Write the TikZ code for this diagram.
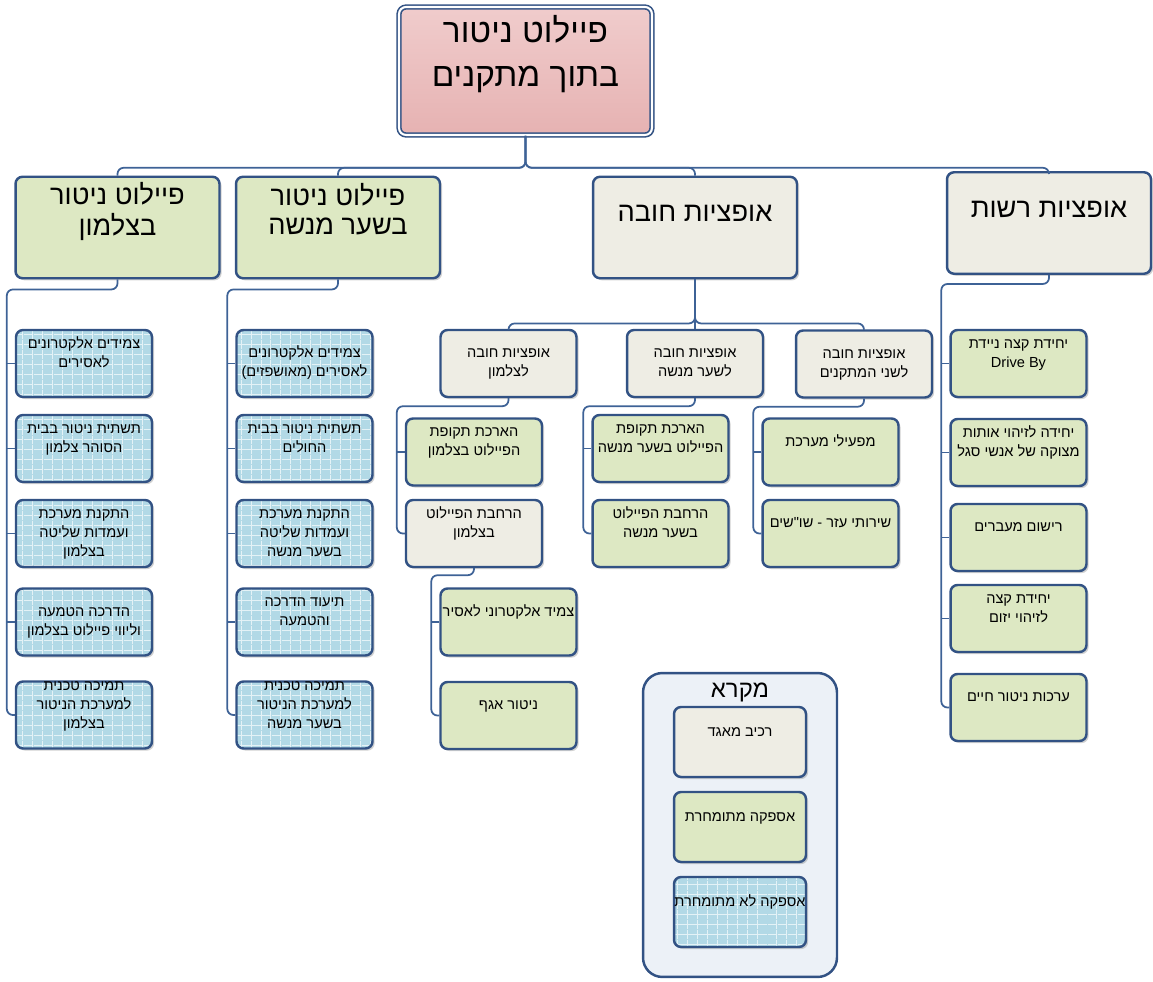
\documentclass[tikz,border=0pt]{standalone}
\usepackage{fontspec}
\usepackage{tikz}
\usetikzlibrary{shadows, patterns.meta}
\newfontfamily\hebfont[Script=Hebrew]{Liberation Sans}
\TeXXeTstate=1
\definecolor{edgeblue}{RGB}{50,82,132}
\definecolor{linkblue}{RGB}{62,98,150}
\definecolor{rootpink}{RGB}{230,178,178}
\definecolor{rootpinktop}{RGB}{240,204,204}
\definecolor{greenfill}{RGB}{221,232,195}
\definecolor{bluefill}{RGB}{178,217,230}
\definecolor{beigefill}{RGB}{238,237,228}
\definecolor{legendfill}{RGB}{236,241,247}
% text of a box: one row per line, raised by #1
\newcommand{\boxtext}[2][3.4pt]{\raisebox{#1}[0pt][0pt]{\begin{tabular}{@{}c@{}}#2\end{tabular}}}

\begin{document}
\begin{tikzpicture}[x = 0.02cm, y = -0.02cm,
    shade/.style = {drop shadow = {shadow xshift = 1.2pt, shadow yshift = -1.2pt, opacity = 0.3, fill = black!60}},
    box/.style = {draw = edgeblue, line width = 1.4pt, rounded corners = 4pt, inner sep = 0pt, shade},
    leaf/.style = {box, minimum width = 2.72cm, minimum height = 1.34cm, font = \hebfont\fontsize{8.3pt}{10.8pt}\selectfont},
    topbox/.style = {box, fill = beigefill, minimum width = 4.08cm, minimum height = 2.03cm, font = \hebfont\fontsize{15.5pt}{16.4pt}\selectfont},
    greenleaf/.style = {leaf, fill = greenfill},
    beigeleaf/.style = {leaf, fill = beigefill},
    blueleaf/.style = {leaf,
        preaction = {fill = bluefill},
        preaction = {pattern = {Lines[angle = 0, distance = 5.4pt, line width = 0.5pt]}, pattern color = white!65!bluefill},
        preaction = {pattern = {Lines[angle = 90, distance = 5.4pt, line width = 0.5pt]}, pattern color = white!65!bluefill}},
    link/.style = {draw = linkblue, line width = 1pt, rounded corners = 3.5pt}]
    \useasboundingbox (0,0) rectangle (1153,982);
    % Radice
    \node[box, top color = rootpinktop, bottom color = rootpink, double = white, double distance = 1.2pt, line width = 0.9pt,
        minimum width = 5.06cm, minimum height = 2.56cm, font = \hebfont\fontsize{19pt}{25pt}\selectfont]
        (root) at (525.5,71) {\boxtext[4.5pt]{\beginR פיילוט ניטור\endR\\\beginR בתוך מתקנים\endR}};
    % Primo livello
    \node[topbox, fill = greenfill] (tz) at (117.5,227.5) {\boxtext[4.6pt]{\beginR פיילוט ניטור\endR\\\beginR בצלמון\endR}};
    \node[topbox, fill = greenfill] (sm) at (338,227.5) {\boxtext[4.6pt]{\beginR פיילוט ניטור\endR\\\beginR בשער מנשה\endR}};
    \node[topbox] (must) at (695,227.5) {\boxtext[3pt]{\beginR אופציות חובה\endR}};
    \node[topbox] (opt) at (1049,223) {\boxtext[3pt]{\beginR אופציות רשות\endR}};
    \draw[link] (root.south) -- ++(0,32) -| (tz.north);
    \draw[link] (root.south) -- ++(0,32) -| (sm.north);
    \draw[link] (root.south) -- ++(0,32) -| (must.north);
    \draw[link] (root.south) -- ++(0,32) -| (opt.north);
    % Pilota Tsalmon
    \node[blueleaf] (tz1) at (84,363.5) {\boxtext{\beginR צמידים אלקטרונים\endR\\\beginR לאסירים\endR}};
    \node[blueleaf] (tz2) at (84,448.5) {\boxtext{\beginR תשתית ניטור בבית\endR\\\beginR הסוהר צלמון\endR}};
    \node[blueleaf] (tz3) at (84,533.5) {\boxtext[-2pt]{\beginR התקנת מערכת\endR\\\beginR ועמדות שליטה\endR\\\beginR בצלמון\endR}};
    \node[blueleaf] (tz4) at (84,622) {\boxtext[-2pt]{\beginR הדרכה הטמעה\endR\\\beginR וליווי פיילוט בצלמון\endR}};
    \node[blueleaf] (tz5) at (84,715) {\boxtext{\beginR תמיכה טכנית\endR\\\beginR למערכת הניטור\endR\\\beginR בצלמון\endR}};
    \draw[link] (tz.south) -- ++(0,10) -| ([xshift = -0.16cm]tz5.west) -- (tz5.west);
    \draw[link] ([xshift = -0.16cm]tz1.west) -- (tz1.west);
    \draw[link] ([xshift = -0.16cm]tz2.west) -- (tz2.west);
    \draw[link] ([xshift = -0.16cm]tz3.west) -- (tz3.west);
    \draw[link] ([xshift = -0.16cm]tz4.west) -- (tz4.west);
    % Pilota Sha'ar Menashe
    \node[blueleaf] (sm1) at (304.5,363.5) {\boxtext[-2pt]{\beginR צמידים אלקטרונים\endR\\\beginR לאסירים (מאושפזים)\endR}};
    \node[blueleaf] (sm2) at (304.5,448.5) {\boxtext{\beginR תשתית ניטור בבית\endR\\\beginR החולים\endR}};
    \node[blueleaf] (sm3) at (304.5,533.5) {\boxtext[-2pt]{\beginR התקנת מערכת\endR\\\beginR ועמדות שליטה\endR\\\beginR בשער מנשה\endR}};
    \node[blueleaf] (sm4) at (304.5,622) {\boxtext{\beginR תיעוד הדרכה\endR\\\beginR והטמעה\endR}};
    \node[blueleaf] (sm5) at (304.5,715) {\boxtext{\beginR תמיכה טכנית\endR\\\beginR למערכת הניטור\endR\\\beginR בשער מנשה\endR}};
    \draw[link] (sm.south) -- ++(0,10) -| ([xshift = -0.16cm]sm5.west) -- (sm5.west);
    \draw[link] ([xshift = -0.16cm]sm1.west) -- (sm1.west);
    \draw[link] ([xshift = -0.16cm]sm2.west) -- (sm2.west);
    \draw[link] ([xshift = -0.16cm]sm3.west) -- (sm3.west);
    \draw[link] ([xshift = -0.16cm]sm4.west) -- (sm4.west);
    % Opzioni obbligatorie
    \node[beigeleaf] (mtz) at (508.5,363.5) {\boxtext[-2pt]{\beginR אופציות חובה\endR\\\beginR לצלמון\endR}};
    \node[beigeleaf] (msm) at (695,363.5) {\boxtext[-2pt]{\beginR אופציות חובה\endR\\\beginR לשער מנשה\endR}};
    \node[beigeleaf] (mboth) at (864,364) {\boxtext[-2pt]{\beginR אופציות חובה\endR\\\beginR לשני המתקנים\endR}};
    \draw[link] (must.south) -- ++(0,44) -| (mtz.north);
    \draw[link] (must.south) -- (msm.north);
    \draw[link] (must.south) -- ++(0,44) -| (mboth.north);
    % Obbligatorie Tsalmon
    \node[greenleaf] (mtz1) at (474,452) {\boxtext{\beginR הארכת תקופת\endR\\\beginR הפיילוט בצלמון\endR}};
    \node[beigeleaf] (mtz2) at (474,533.5) {\boxtext{\beginR הרחבת הפיילוט\endR\\\beginR בצלמון\endR}};
    \draw[link] (mtz.south) -- ++(0,8) -| ([xshift = -0.16cm]mtz2.west) -- (mtz2.west);
    \draw[link] ([xshift = -0.16cm]mtz1.west) -- (mtz1.west);
    \node[greenleaf] (mtz21) at (508.5,622) {\boxtext{\beginR צמיד אלקטרוני לאסיר\endR}};
    \node[greenleaf] (mtz22) at (508.5,715.5) {\boxtext{\beginR ניטור אגף\endR}};
    \draw[link] (mtz2.south) -- ++(0,7) -| ([xshift = -0.16cm]mtz22.west) -- (mtz22.west);
    \draw[link] ([xshift = -0.16cm]mtz21.west) -- (mtz21.west);
    % Obbligatorie Sha'ar Menashe
    \node[greenleaf] (msm1) at (660.5,448.5) {\boxtext{\beginR הארכת תקופת\endR\\\beginR הפיילוט בשער מנשה\endR}};
    \node[greenleaf] (msm2) at (660.5,533.5) {\boxtext{\beginR הרחבת הפיילוט\endR\\\beginR בשער מנשה\endR}};
    \draw[link] (msm.south) -- ++(0,8) -| ([xshift = -0.16cm]msm2.west) -- (msm2.west);
    \draw[link] ([xshift = -0.16cm]msm1.west) -- (msm1.west);
    % Obbligatorie per entrambi
    \node[greenleaf] (mboth1) at (830.5,452) {\boxtext{\beginR מפעילי מערכת\endR}};
    \node[greenleaf] (mboth2) at (830.5,533.5) {\boxtext{\beginR שירותי עזר - שו"שים\endR}};
    \draw[link] (mboth.south) -- ++(0,8) -| ([xshift = -0.16cm]mboth2.west) -- (mboth2.west);
    \draw[link] ([xshift = -0.16cm]mboth1.west) -- (mboth1.west);
    % Opzioni facoltative
    \node[greenleaf] (opt1) at (1018.5,363.5) {\boxtext{\beginR יחידת קצה ניידת\endR\\\beginL Drive By\endL}};
    \node[greenleaf] (opt2) at (1018.5,452.5) {\boxtext{\beginR יחידה לזיהוי אותות\endR\\\beginR מצוקה של אנשי סגל\endR}};
    \node[greenleaf] (opt3) at (1018.5,537.5) {\boxtext{\beginR רישום מעברים\endR}};
    \node[greenleaf] (opt4) at (1018.5,618.5) {\boxtext{\beginR יחידת קצה\endR\\\beginR לזיהוי יזום\endR}};
    \node[greenleaf] (opt5) at (1018.5,707.5) {\boxtext{\beginR ערכות ניטור חיים\endR}};
    \draw[link] (opt.south) -- ++(0,9) -| ([xshift = -0.16cm]opt5.west) -- (opt5.west);
    \draw[link] ([xshift = -0.16cm]opt1.west) -- (opt1.west);
    \draw[link] ([xshift = -0.16cm]opt2.west) -- (opt2.west);
    \draw[link] ([xshift = -0.16cm]opt3.west) -- (opt3.west);
    \draw[link] ([xshift = -0.16cm]opt4.west) -- (opt4.west);
    % Legenda
    \node[draw = edgeblue, line width = 1.4pt, fill = legendfill, rounded corners = 11pt,
        minimum width = 3.88cm, minimum height = 6.08cm] (legend) at (740,825) {};
    \node[font = \hebfont\fontsize{13.6pt}{15pt}\selectfont, inner sep = 0pt] (legtitle) at (740,692) {\beginR מקרא\endR};
    \node[beigeleaf, minimum width = 2.64cm, minimum height = 1.4cm] (leg1) at (740,742) {\boxtext{\beginR רכיב מאגד\endR}};
    \node[greenleaf, minimum width = 2.64cm, minimum height = 1.4cm] (leg2) at (740,827) {\boxtext{\beginR אספקה מתומחרת\endR}};
    \node[blueleaf, minimum width = 2.64cm, minimum height = 1.4cm] (leg3) at (740,912) {\boxtext{\beginR אספקה לא מתומחרת\endR}};
\end{tikzpicture}
\end{document}
